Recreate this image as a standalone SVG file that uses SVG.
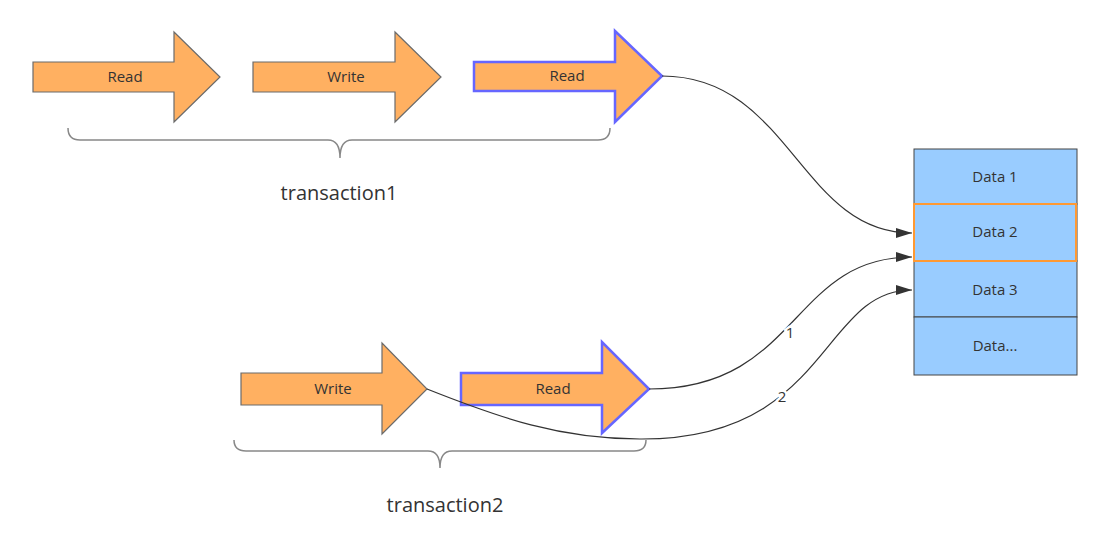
<svg xmlns="http://www.w3.org/2000/svg" width="1099" height="558" viewBox="0 0 1099 558">
<style>
.arrow{fill:#FFB061;stroke:#6b6b6b;stroke-width:1.2}
.sel{fill:#FFB061;stroke:#6666FF;stroke-width:2.5}
.lbl{font-family:"Open Sans",sans-serif;font-size:15px;fill:#333;text-anchor:middle}
.big{font-family:"Open Sans",sans-serif;font-size:20px;fill:#333;text-anchor:middle}
.brace{fill:none;stroke:#888;stroke-width:1.5}
.cell{fill:#99CCFF;stroke:#444;stroke-width:1}
.conn{fill:none;stroke:#333;stroke-width:1.2}
.clbl{font-family:"Open Sans",sans-serif;font-size:15px;fill:#333;text-anchor:middle;stroke:#fff;stroke-width:5;paint-order:stroke}
</style>
<defs>
<marker id="ah" viewBox="0 0 16 10" refX="16" refY="5" markerWidth="16" markerHeight="10" markerUnits="userSpaceOnUse" orient="auto">
<path d="M0,0 L16,5 L0,10 Z" fill="#333"/>
</marker>
</defs>
<rect width="1099" height="558" fill="#fff"/>
<g id="t1-read1">
<path class="arrow" d="M33,62 L174,62 L174,32 L220,77 L174,122 L174,92 L33,92 Z"/>
<text class="lbl" x="125" y="82">Read</text>
</g>
<g id="t1-write">
<path class="arrow" d="M253,62 L395,62 L395,32 L441,77 L395,122 L395,92 L253,92 Z"/>
<text class="lbl" x="346" y="82">Write</text>
</g>
<g id="t1-read2">
<path class="sel" d="M474,62 L615,62 L615,31 L662,76 L615,122 L615,91 L474,91 Z"/>
<text class="lbl" x="567" y="81">Read</text>
</g>
<g id="brace1">
<path class="brace" d="M68,128 Q68,140 80,140 L328,140 Q340,140 340,158 Q340,140 352,140 L598,140 Q610,140 610,128"/>
<text class="big" x="339" y="200">transaction1</text>
</g>
<g id="t2-write">
<path class="arrow" d="M241,373 L382,373 L382,343 L427,389 L382,434 L382,405 L241,405 Z"/>
<text class="lbl" x="333" y="394">Write</text>
</g>
<g id="t2-read">
<path class="sel" d="M461,373 L602,373 L602,342 L649,389 L602,433 L602,405 L461,405 Z"/>
<text class="lbl" x="553" y="394">Read</text>
</g>
<g id="brace2">
<path class="brace" d="M234,440 Q234,451 246,451 L428,451 Q440,451 440,468 Q440,451 452,451 L634,451 Q646,451 646,440"/>
<text class="big" x="445" y="512">transaction2</text>
</g>
<g id="data-table">
<rect class="cell" x="914" y="149" width="163" height="55"/>
<rect class="cell" x="914" y="204" width="163" height="57"/>
<rect class="cell" x="914" y="261" width="163" height="56"/>
<rect class="cell" x="914" y="317" width="163" height="58"/>
<rect x="914" y="204" width="162" height="57" fill="none" stroke="#FF9933" stroke-width="2"/>
<text class="lbl" x="995" y="182">Data 1</text>
<text class="lbl" x="995" y="237">Data 2</text>
<text class="lbl" x="995" y="295">Data 3</text>
<text class="lbl" x="995" y="351">Data...</text>
</g>
<g id="connectors">
<path class="conn" marker-end="url(#ah)" d="M662,76 C790,76 800,233 912,233"/>
<path class="conn" marker-end="url(#ah)" d="M649,389 C800,389 790,257 912,257"/>
<path class="conn" marker-end="url(#ah)" d="M427,389 C500,418 560,439 640,439 C830,440 820,290 912,290"/>
<text class="clbl" x="790" y="338">1</text>
<text class="clbl" x="782" y="402">2</text>
</g>
</svg>
